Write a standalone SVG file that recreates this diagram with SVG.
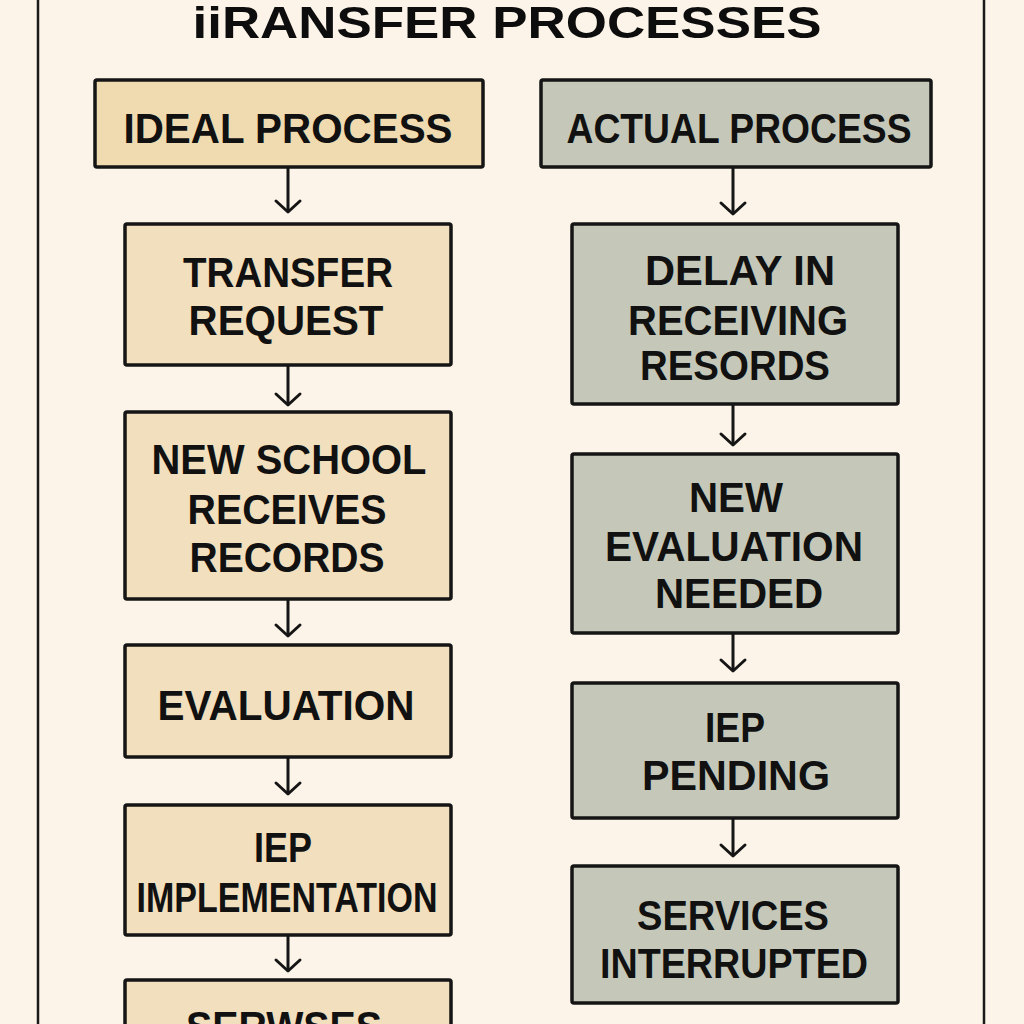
<svg xmlns="http://www.w3.org/2000/svg" width="1024" height="1024" viewBox="0 0 1024 1024">
<defs>
<style>
.bg{fill:#fcf4e8}
.frame{fill:none;stroke:#1a1a1a;stroke-width:2.5}
.ideal{fill:#f0dbb0;stroke:#151515;stroke-width:3.5}
.ibox{fill:#f2dfbd;stroke:#151515;stroke-width:3.5}
.abox{fill:#c5c8b8;stroke:#151515;stroke-width:3.5}
.t{font-family:"Liberation Sans","Open Sans",sans-serif;font-weight:700;font-size:42px;fill:#111;text-anchor:middle}
.title{font-family:"Liberation Sans","Open Sans",sans-serif;font-weight:700;font-size:44px;fill:#0d0d0d;text-anchor:middle}
.conn{stroke:#151515;stroke-width:3;fill:none;marker-end:url(#arr)}
</style>
<marker id="arr" markerUnits="userSpaceOnUse" markerWidth="30" markerHeight="30" refX="15" refY="15" orient="auto" viewBox="0 0 30 30">
<path d="M4,3 L15,15 L4,27" fill="none" stroke="#151515" stroke-width="3" stroke-linecap="round" stroke-linejoin="round"/>
</marker>
</defs>
<rect class="bg" x="0" y="0" width="1024" height="1024"/>
<line class="frame" x1="38" y1="0" x2="38" y2="1024"/>
<line class="frame" x1="984" y1="0" x2="984" y2="1024"/>
<text class="title" x="507" y="38" textLength="629" lengthAdjust="spacingAndGlyphs">iiRANSFER PROCESSES</text>

<g id="connectors">
<line class="conn" x1="288" y1="168" x2="288" y2="212"/>
<line class="conn" x1="288" y1="366" x2="288" y2="405"/>
<line class="conn" x1="288" y1="600" x2="288" y2="636"/>
<line class="conn" x1="288" y1="758" x2="288" y2="794"/>
<line class="conn" x1="288" y1="936" x2="288" y2="971"/>
<line class="conn" x1="733" y1="168" x2="733" y2="214"/>
<line class="conn" x1="733" y1="405" x2="733" y2="445"/>
<line class="conn" x1="733" y1="634" x2="733" y2="671"/>
<line class="conn" x1="733" y1="819" x2="733" y2="856"/>
</g>

<g id="ideal-process">
<rect class="ideal" x="95" y="80" width="388" height="87" rx="2"/>
<text class="t" x="288" y="143" textLength="329" lengthAdjust="spacingAndGlyphs">IDEAL PROCESS</text>
</g>
<g id="transfer-request">
<rect class="ibox" x="125" y="224" width="326" height="141" rx="2"/>
<text class="t" x="288" y="287" textLength="210" lengthAdjust="spacingAndGlyphs">TRANSFER</text>
<text class="t" x="286" y="335" textLength="195" lengthAdjust="spacingAndGlyphs">REQUEST</text>
</g>
<g id="new-school-receives-records">
<rect class="ibox" x="125" y="412" width="326" height="187" rx="2"/>
<text class="t" x="289" y="474" textLength="275" lengthAdjust="spacingAndGlyphs">NEW SCHOOL</text>
<text class="t" x="287" y="524" textLength="199" lengthAdjust="spacingAndGlyphs">RECEIVES</text>
<text class="t" x="287" y="572" textLength="195" lengthAdjust="spacingAndGlyphs">RECORDS</text>
</g>
<g id="evaluation">
<rect class="ibox" x="125" y="645" width="326" height="112" rx="2"/>
<text class="t" x="286" y="720" textLength="257" lengthAdjust="spacingAndGlyphs">EVALUATION</text>
</g>
<g id="iep-implementation">
<rect class="ibox" x="125" y="805" width="326" height="130" rx="2"/>
<text class="t" x="283" y="862" textLength="58" lengthAdjust="spacingAndGlyphs">IEP</text>
<text class="t" x="287" y="912" textLength="301" lengthAdjust="spacingAndGlyphs">IMPLEMENTATION</text>
</g>
<g id="services">
<rect class="ibox" x="125" y="980" width="326" height="70" rx="2"/>
<text class="t" x="284" y="1041" textLength="196" lengthAdjust="spacingAndGlyphs">SERWSES</text>
</g>

<g id="actual-process">
<rect class="abox" x="541" y="80" width="390" height="87" rx="2"/>
<text class="t" x="739" y="143" textLength="345" lengthAdjust="spacingAndGlyphs">ACTUAL PROCESS</text>
</g>
<g id="delay-in-receiving-records">
<rect class="abox" x="572" y="224" width="326" height="180" rx="2"/>
<text class="t" x="740" y="285" textLength="190" lengthAdjust="spacingAndGlyphs">DELAY IN</text>
<text class="t" x="738" y="335" textLength="220" lengthAdjust="spacingAndGlyphs">RECEIVING</text>
<text class="t" x="735" y="380" textLength="190" lengthAdjust="spacingAndGlyphs">RESORDS</text>
</g>
<g id="new-evaluation-needed">
<rect class="abox" x="572" y="454" width="326" height="179" rx="2"/>
<text class="t" x="736" y="512" textLength="94" lengthAdjust="spacingAndGlyphs">NEW</text>
<text class="t" x="734" y="561" textLength="258" lengthAdjust="spacingAndGlyphs">EVALUATION</text>
<text class="t" x="739" y="608" textLength="168" lengthAdjust="spacingAndGlyphs">NEEDED</text>
</g>
<g id="iep-pending">
<rect class="abox" x="572" y="683" width="326" height="135" rx="2"/>
<text class="t" x="735" y="742" textLength="60" lengthAdjust="spacingAndGlyphs">IEP</text>
<text class="t" x="736" y="790" textLength="188" lengthAdjust="spacingAndGlyphs">PENDING</text>
</g>
<g id="services-interrupted">
<rect class="abox" x="572" y="866" width="326" height="137" rx="2"/>
<text class="t" x="733" y="930" textLength="192" lengthAdjust="spacingAndGlyphs">SERVICES</text>
<text class="t" x="734" y="978" textLength="268" lengthAdjust="spacingAndGlyphs">INTERRUPTED</text>
</g>
</svg>
